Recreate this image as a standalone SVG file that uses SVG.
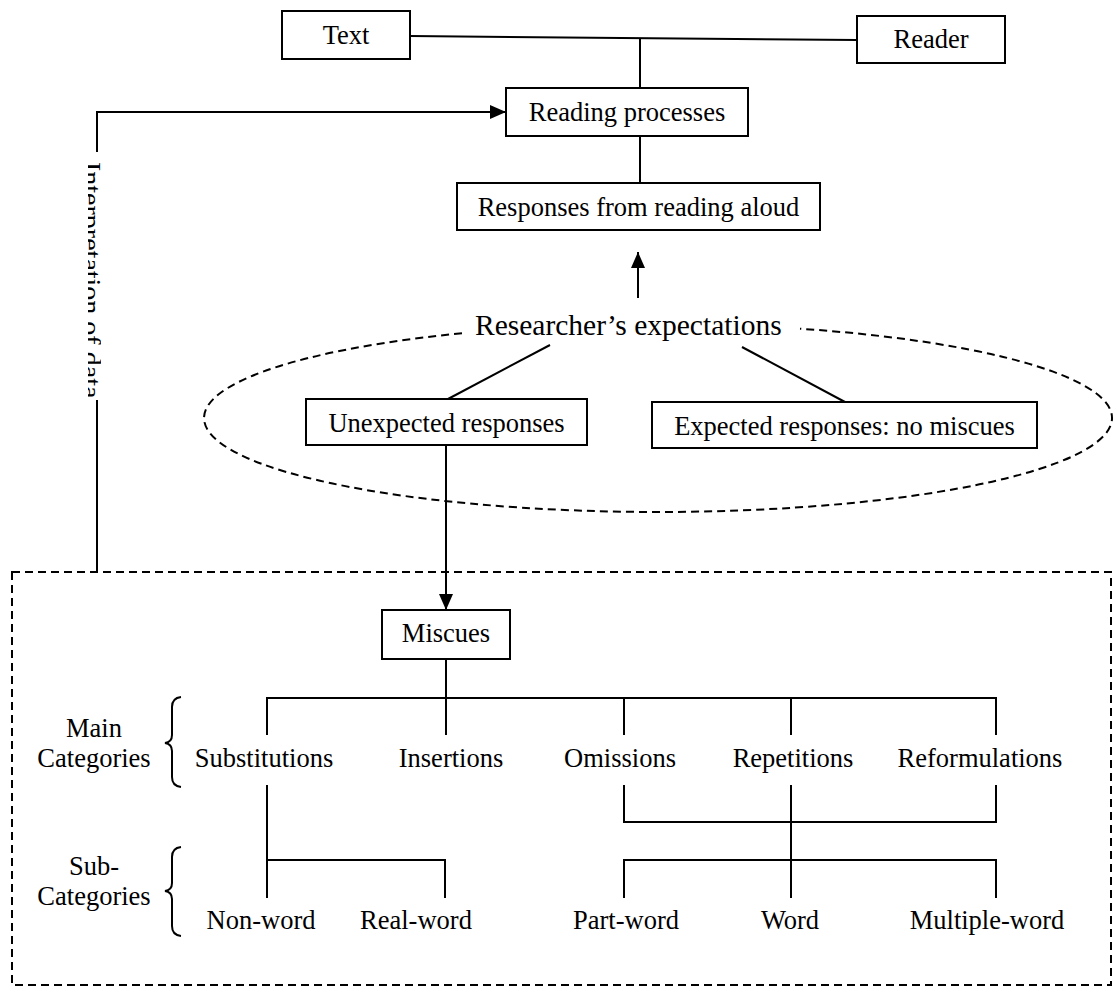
<svg xmlns="http://www.w3.org/2000/svg" width="1117" height="993" viewBox="0 0 1117 993">
  <style>
    text { font-family: "Liberation Serif", "Times New Roman", serif; font-size: 26.5px; fill: #000; }
    .mid { text-anchor: middle; }
    .box { fill: #fff; stroke: #000; stroke-width: 2; }
    .ln { fill: none; stroke: #000; stroke-width: 2; }
    .dash { fill: none; stroke: #000; stroke-width: 2; stroke-dasharray: 8 5; }
  </style>
  <defs>
    <marker id="ah" viewBox="0 0 16 14" refX="16" refY="7" markerWidth="16" markerHeight="14" orient="auto" markerUnits="userSpaceOnUse">
      <path d="M0,0 L16,7 L0,14 z" fill="#000"/>
    </marker>
    <!-- the side label sits in a narrow strip, so only a slice of the glyphs shows -->
    <clipPath id="sideClip">
      <rect x="88" y="150" width="13" height="260"/>
    </clipPath>
  </defs>

  <rect width="1117" height="993" fill="#fff"/>

  <!-- dashed frames: the expectation ellipse (open where its label sits) and the miscue panel -->
  <g id="frames">
    <path class="dash" d="M462,333.2 A454,94 0 1 0 800,328.7"/>
    <rect class="dash" x="12" y="572" width="1099" height="413"/>
  </g>

  <!-- connectors -->
  <g id="connectors">
    <line class="ln" x1="410" y1="36" x2="857" y2="40"/>
    <line class="ln" x1="640" y1="38" x2="640" y2="88"/>
    <line class="ln" x1="640" y1="136" x2="640" y2="183"/>
    <line class="ln" x1="638" y1="298" x2="638" y2="252" marker-end="url(#ah)"/>
    <line class="ln" x1="550" y1="345" x2="448" y2="399"/>
    <line class="ln" x1="742" y1="347" x2="845" y2="402"/>
    <line class="ln" x1="446" y1="445" x2="446" y2="610" marker-end="url(#ah)"/>
    <!-- feedback loop on the left -->
    <path class="ln" d="M97,572 V400"/>
    <path class="ln" d="M97,152 V112 H506" marker-end="url(#ah)"/>
    <!-- miscue tree -->
    <line class="ln" x1="446" y1="659" x2="446" y2="698"/>
    <path class="ln" d="M267,735 V698 H996 V735"/>
    <line class="ln" x1="446" y1="698" x2="446" y2="735"/>
    <line class="ln" x1="624" y1="698" x2="624" y2="735"/>
    <line class="ln" x1="791" y1="698" x2="791" y2="735"/>
    <!-- substitutions split -->
    <line class="ln" x1="267" y1="785" x2="267" y2="898"/>
    <path class="ln" d="M267,860 H445 V898"/>
    <!-- omissions / reformulations link -->
    <path class="ln" d="M624,785 V822 H996 V785"/>
    <!-- repetitions split -->
    <line class="ln" x1="791" y1="785" x2="791" y2="898"/>
    <path class="ln" d="M624,898 V860 H996 V898"/>
  </g>

  <g id="side-label" clip-path="url(#sideClip)">
    <text transform="translate(82,162) rotate(90)" style="font-size:28px">Interpretation of data</text>
  </g>

  <g id="text-node">
    <rect class="box" x="282" y="11" width="128" height="48"/>
    <text class="mid" x="346" y="44">Text</text>
  </g>
  <g id="reader-node">
    <rect class="box" x="857" y="16" width="148" height="47"/>
    <text class="mid" x="931" y="48">Reader</text>
  </g>
  <g id="reading-processes">
    <rect class="box" x="506" y="88" width="242" height="48"/>
    <text class="mid" x="627" y="121">Reading processes</text>
  </g>
  <g id="responses-aloud">
    <rect class="box" x="457" y="183" width="363" height="47"/>
    <text class="mid" x="638.5" y="216">Responses from reading aloud</text>
  </g>
  <g id="expectations">
    <text x="475" y="335" style="font-size:29.5px">Researcher’s expectations</text>
  </g>
  <g id="unexpected">
    <rect class="box" x="306" y="399" width="281" height="46"/>
    <text class="mid" x="446.5" y="432">Unexpected responses</text>
  </g>
  <g id="expected">
    <rect class="box" x="652" y="402" width="385" height="46"/>
    <text class="mid" x="844.5" y="435">Expected responses: no miscues</text>
  </g>
  <g id="miscues">
    <rect class="box" x="382" y="610" width="128" height="49"/>
    <text class="mid" x="446" y="642">Miscues</text>
  </g>

  <g id="main-categories">
    <text class="mid" x="94" y="737">Main</text>
    <text class="mid" x="94" y="767">Categories</text>
    <path class="ln" d="M181,697 Q172,698 172,707 V735 Q172,742 165,743 Q172,744 172,751 V777 Q172,786 181,787"/>
    <text class="mid" x="264" y="767">Substitutions</text>
    <text class="mid" x="451" y="767">Insertions</text>
    <text class="mid" x="620" y="767">Omissions</text>
    <text class="mid" x="793" y="767">Repetitions</text>
    <text class="mid" x="980" y="767">Reformulations</text>
  </g>

  <g id="sub-categories">
    <text class="mid" x="94" y="875">Sub-</text>
    <text class="mid" x="94" y="905">Categories</text>
    <path class="ln" d="M181,847 Q172,848 172,857 V883 Q172,890 165,891 Q172,892 172,899 V926 Q172,935 181,936"/>
    <text class="mid" x="261" y="929">Non-word</text>
    <text class="mid" x="416" y="929">Real-word</text>
    <text class="mid" x="626" y="929">Part-word</text>
    <text class="mid" x="790" y="929">Word</text>
    <text class="mid" x="987" y="929">Multiple-word</text>
  </g>
</svg>
